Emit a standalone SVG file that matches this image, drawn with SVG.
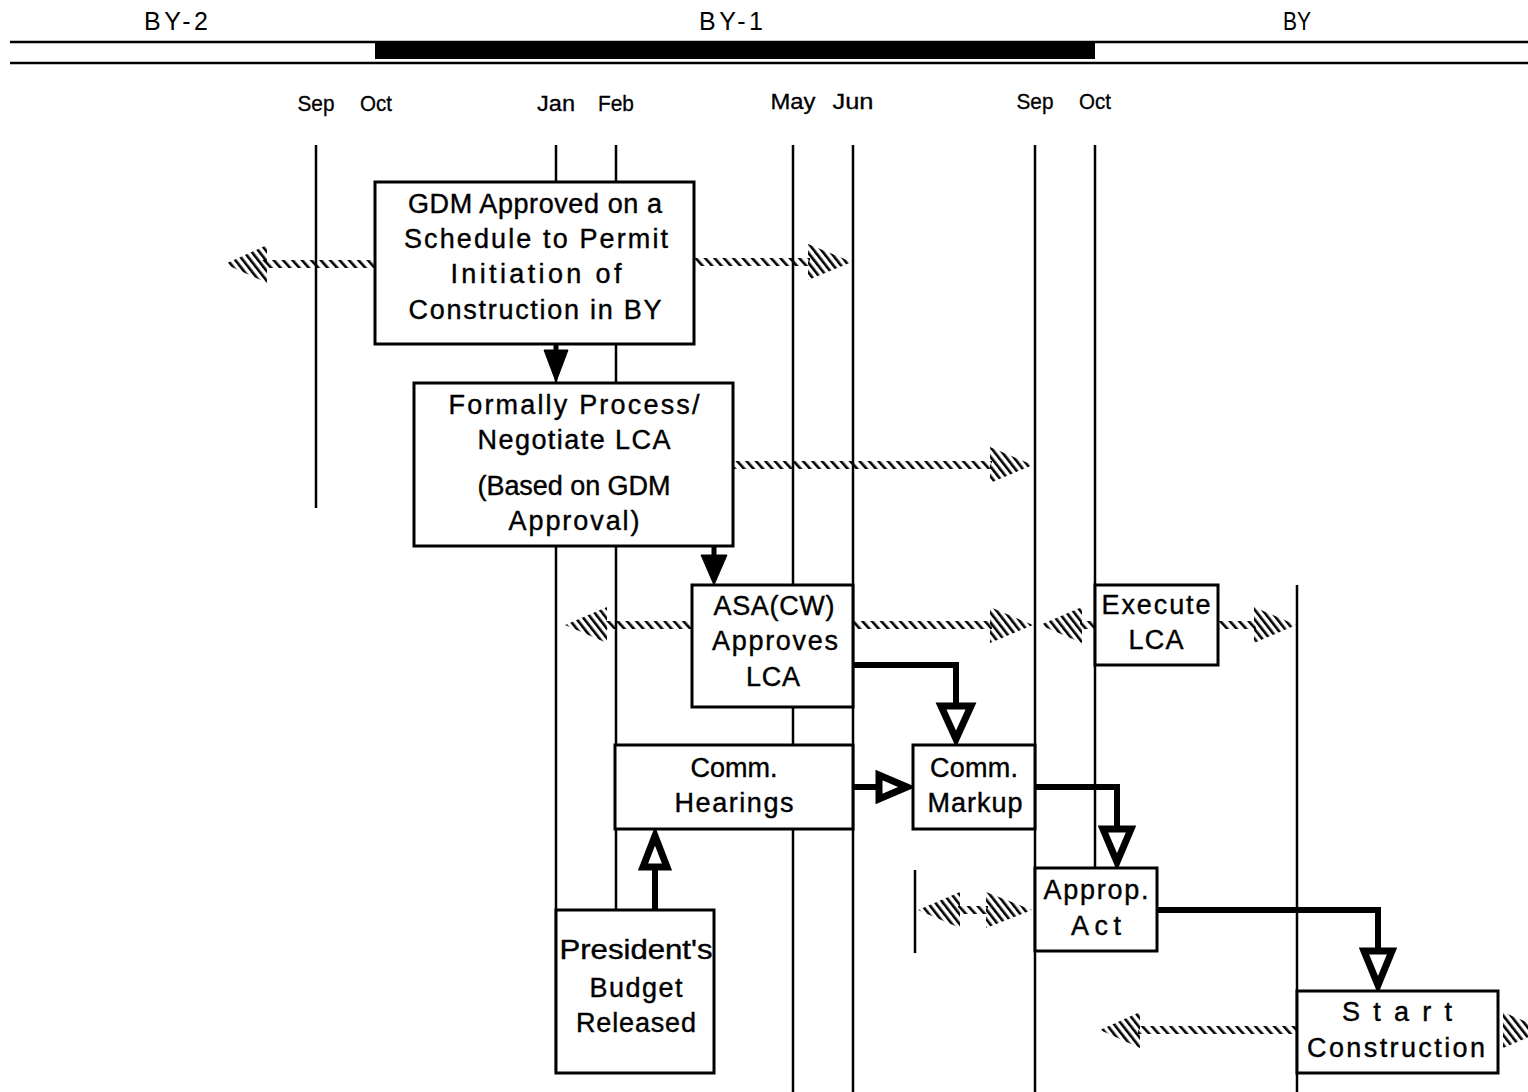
<svg xmlns="http://www.w3.org/2000/svg" width="1528" height="1092" viewBox="0 0 1528 1092">
<style>
.t{font-family:"Liberation Sans",Arial,sans-serif;font-size:27px;fill:#000;stroke:#000;stroke-width:0.4;text-anchor:middle}
.h{font-family:"Liberation Sans",Arial,sans-serif;font-size:25px;fill:#000;text-anchor:middle}
.m{font-family:"Liberation Sans Narrow","Liberation Sans",Arial,sans-serif;font-size:22px;fill:#000;stroke:#000;stroke-width:0.3;text-anchor:middle}
.v{stroke:#000;stroke-width:2.5;fill:none}
.box{fill:#fff;stroke:#000;stroke-width:3}
.thick{fill:none;stroke:#000;stroke-width:6}
.head{fill:#fff;stroke:#000;stroke-width:7;stroke-linejoin:miter}
.solid{fill:#000;stroke:#000;stroke-width:1}
.sh{fill:url(#hs)}
.hd{fill:url(#hh)}
</style>
<defs>
<pattern id="hs" width="7" height="8" patternUnits="userSpaceOnUse" patternTransform="rotate(-42)"><rect x="0" y="0" width="2.6" height="8" fill="#000"/></pattern>
<pattern id="hh" width="6" height="8" patternUnits="userSpaceOnUse" patternTransform="rotate(-38)"><rect x="0" y="0" width="2.6" height="8" fill="#000"/></pattern>
</defs>
<rect width="1528" height="1092" fill="#fff"/>
<g id="timeline">
<text class="h" x="176" y="30" textLength="64" lengthAdjust="spacing">BY-2</text>
<text class="h" x="731" y="30" textLength="64" lengthAdjust="spacing">BY-1</text>
<text class="h" x="1297" y="30" textLength="28" lengthAdjust="spacingAndGlyphs">BY</text>
<line x1="10" y1="42" x2="1528" y2="42" stroke="#000" stroke-width="2.5"/>
<line x1="10" y1="63" x2="1528" y2="63" stroke="#000" stroke-width="2.5"/>
<rect x="375" y="42" width="720" height="17" fill="#000"/>
<text class="m" x="316" y="111" textLength="37" lengthAdjust="spacingAndGlyphs">Sep</text>
<text class="m" x="376" y="111" textLength="32" lengthAdjust="spacingAndGlyphs">Oct</text>
<text class="m" x="556" y="111" textLength="38" lengthAdjust="spacingAndGlyphs">Jan</text>
<text class="m" x="616" y="111" textLength="36" lengthAdjust="spacingAndGlyphs">Feb</text>
<text class="m" x="793" y="109" textLength="45" lengthAdjust="spacingAndGlyphs">May</text>
<text class="m" x="853" y="109" textLength="41" lengthAdjust="spacingAndGlyphs">Jun</text>
<text class="m" x="1035" y="109" textLength="37" lengthAdjust="spacingAndGlyphs">Sep</text>
<text class="m" x="1095" y="109" textLength="32" lengthAdjust="spacingAndGlyphs">Oct</text>
<line class="v" x1="316" y1="145" x2="316" y2="508"/>
<line class="v" x1="556" y1="145" x2="556" y2="1073"/>
<line class="v" x1="616" y1="145" x2="616" y2="910"/>
<line class="v" x1="793" y1="145" x2="793" y2="1092"/>
<line class="v" x1="853" y1="145" x2="853" y2="1092"/>
<line class="v" x1="1035" y1="145" x2="1035" y2="1092"/>
<line class="v" x1="1095" y1="145" x2="1095" y2="868"/>
<line class="v" x1="1297" y1="585" x2="1297" y2="1092"/>
<line class="v" x1="915" y1="870" x2="915" y2="953"/>
</g>
<g id="connectors">
<rect class="sh" x="262" y="260" width="113" height="8"/>
<polygon class="hd" points="225,264 267,245 267,283"/>
<rect class="sh" x="694" y="258" width="116" height="8"/>
<polygon class="hd" points="808,244 808,280 852,262"/>
<rect class="sh" x="733" y="461" width="259" height="8"/>
<polygon class="hd" points="990,447 990,483 1033,465"/>
<rect class="sh" x="605" y="621" width="87" height="8"/>
<polygon class="hd" points="565,625 607,607 607,643"/>
<rect class="sh" x="853" y="621" width="139" height="8"/>
<polygon class="hd" points="990,607 990,643 1033,625"/>
<rect class="sh" x="1080" y="621" width="15" height="8"/>
<polygon class="hd" points="1040,625 1082,607 1082,643"/>
<rect class="sh" x="1218" y="621" width="38" height="8"/>
<polygon class="hd" points="1254,607 1254,643 1296,625"/>
<rect class="sh" x="958" y="906" width="30" height="8"/>
<polygon class="hd" points="918,910 960,892 960,928"/>
<polygon class="hd" points="986,892 986,928 1032,910"/>
<rect class="sh" x="1138" y="1026" width="159" height="8"/>
<polygon class="hd" points="1100,1030 1140,1012 1140,1048"/>
<polygon class="hd" points="1503,1012 1503,1048 1545,1030"/>
<line x1="556" y1="344" x2="556" y2="352" stroke="#000" stroke-width="5"/>
<polygon class="solid" points="544,350 568,350 556,382"/>
<line x1="714" y1="546" x2="714" y2="556" stroke="#000" stroke-width="5"/>
<polygon class="solid" points="701,555 727,555 714,585"/>
<path class="thick" d="M853,665 H956 V706"/>
<polygon class="head" points="941,706 971,706 956,739"/>
<path class="thick" d="M853,787 H877"/>
<polygon class="head" points="879,775 879,799 907,787"/>
<path class="thick" d="M1035,787 H1117 V829"/>
<polygon class="head" points="1103,829 1131,829 1117,862"/>
<path class="thick" d="M655,910 V867"/>
<polygon class="head" points="643,867 667,867 655,836"/>
<path class="thick" d="M1157,910 H1378 V951"/>
<polygon class="head" points="1364,951 1392,951 1378,985"/>
</g>
<g id="gdm">
<rect class="box" x="375" y="182" width="319" height="162"/>
<text class="t" x="535" y="213" textLength="254" lengthAdjust="spacing">GDM Approved on a</text>
<text class="t" x="536" y="248" textLength="264" lengthAdjust="spacing">Schedule  to  Permit</text>
<text class="t" x="536" y="283" textLength="171" lengthAdjust="spacing">Initiation  of</text>
<text class="t" x="535" y="319" textLength="253" lengthAdjust="spacing">Construction  in  BY</text>
</g>
<g id="formally">
<rect class="box" x="414" y="383" width="319" height="163"/>
<text class="t" x="574" y="414" textLength="251" lengthAdjust="spacing">Formally  Process/</text>
<text class="t" x="574" y="449" textLength="193" lengthAdjust="spacing">Negotiate  LCA</text>
<text class="t" x="574" y="495" textLength="193" lengthAdjust="spacing">(Based on GDM</text>
<text class="t" x="574" y="530" textLength="131" lengthAdjust="spacing">Approval)</text>
</g>
<g id="asa">
<rect class="box" x="692" y="585" width="161" height="122"/>
<text class="t" x="774" y="615" textLength="121" lengthAdjust="spacing">ASA(CW)</text>
<text class="t" x="775" y="650" textLength="126" lengthAdjust="spacing">Approves</text>
<text class="t" x="773" y="686" textLength="54" lengthAdjust="spacing">LCA</text>
</g>
<g id="execute">
<rect class="box" x="1095" y="585" width="123" height="80"/>
<text class="t" x="1156" y="614" textLength="109" lengthAdjust="spacing">Execute</text>
<text class="t" x="1156" y="649" textLength="55" lengthAdjust="spacing">LCA</text>
</g>
<g id="hearings">
<rect class="box" x="615" y="745" width="238" height="84"/>
<text class="t" x="734" y="777" textLength="87" lengthAdjust="spacing">Comm.</text>
<text class="t" x="734" y="812" textLength="119" lengthAdjust="spacing">Hearings</text>
</g>
<g id="markup">
<rect class="box" x="913" y="745" width="122" height="84"/>
<text class="t" x="974" y="777" textLength="88" lengthAdjust="spacing">Comm.</text>
<text class="t" x="975" y="812" textLength="95" lengthAdjust="spacing">Markup</text>
</g>
<g id="approp">
<rect class="box" x="1035" y="868" width="122" height="83"/>
<text class="t" x="1096" y="899" textLength="105" lengthAdjust="spacing">Approp.</text>
<text class="t" x="1096" y="935" textLength="50" lengthAdjust="spacing">Act</text>
</g>
<g id="budget">
<rect class="box" x="556" y="910" width="158" height="163"/>
<text class="t" x="636" y="959" textLength="153" lengthAdjust="spacingAndGlyphs">President's</text>
<text class="t" x="636" y="997" textLength="93" lengthAdjust="spacing">Budget</text>
<text class="t" x="636" y="1032" textLength="120" lengthAdjust="spacing">Released</text>
</g>
<g id="start">
<rect class="box" x="1297" y="991" width="201" height="82"/>
<text class="t" x="1397" y="1021" textLength="110" lengthAdjust="spacing">Start</text>
<text class="t" x="1396" y="1057" textLength="178" lengthAdjust="spacing">Construction</text>
</g>
</svg>
